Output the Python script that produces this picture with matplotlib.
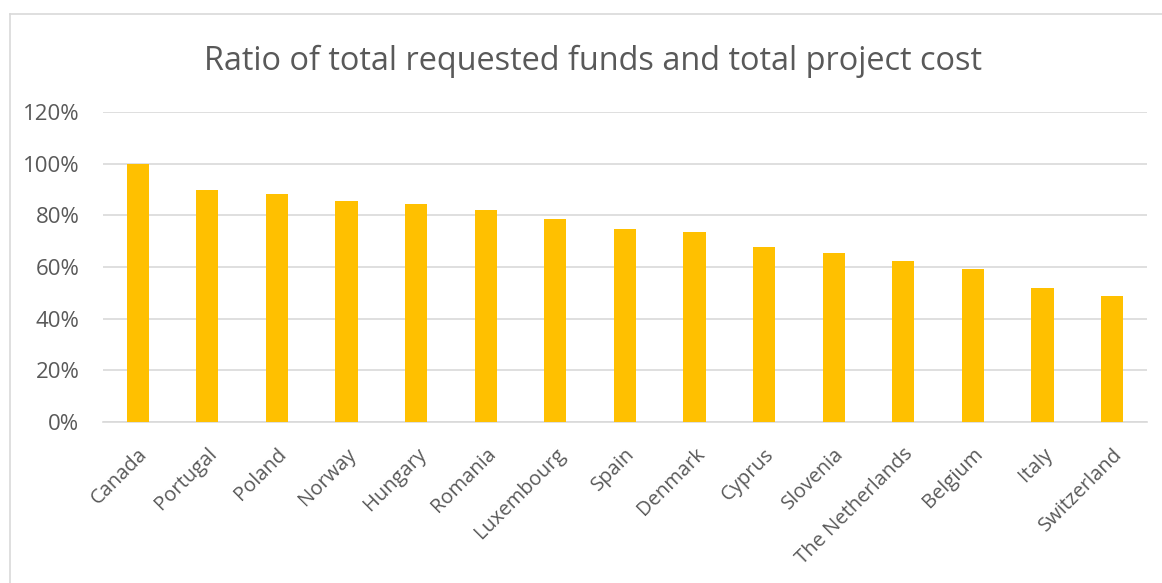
import matplotlib
matplotlib.use("Agg")
import matplotlib.pyplot as plt
import matplotlib.transforms as mtransforms
from matplotlib.ticker import PercentFormatter
from matplotlib.lines import Line2D

countries = ["Canada", "Portugal", "Poland", "Norway", "Hungary", "Romania",
             "Luxembourg", "Spain", "Denmark", "Cyprus", "Slovenia",
             "The Netherlands", "Belgium", "Italy", "Switzerland"]
ratios = [100.0, 89.7, 88.4, 85.7, 84.3, 82.1, 78.4, 74.7, 73.6, 67.6,
          65.3, 62.2, 59.1, 51.7, 48.9]
yticks = [0, 20, 40, 60, 80, 100, 120]
title = "Ratio of total requested funds and total project cost"

plt.rcParams['font.family'] = ['Open Sans', 'DejaVu Sans']
text_color = "#595959"
grid_color = "#d9d9d9"
bar_color = "#FFC000"

fig = plt.figure(figsize=(11.62, 5.83), dpi=100)
ax = fig.add_axes([0.0886, 0.2762, 0.987 - 0.0886, 0.8079 - 0.2762])

x = list(range(len(countries)))
ax.bar(x, ratios, width=0.32, color=bar_color, zorder=3)
ax.set_xlim(-0.5, len(countries) - 0.5)
ax.set_ylim(0, 120)
ax.set_yticks(yticks)
ax.yaxis.set_major_formatter(PercentFormatter(decimals=0))
ax.set_xticks(x)
ax.set_xticklabels(countries, rotation=45, ha="right", rotation_mode="anchor",
                   fontsize=14.5, color=text_color)
shift = mtransforms.ScaledTranslation(-5 / 100, 0, fig.dpi_scale_trans)
for lab in ax.get_xticklabels():
    lab.set_transform(lab.get_transform() + shift)
for lab in ax.get_yticklabels():
    lab.set_fontsize(16)
    lab.set_color(text_color)
ax.tick_params(axis="both", length=0)
ax.tick_params(axis="y", pad=17)
ax.tick_params(axis="x", pad=16)
ax.grid(axis="y", color=grid_color, linewidth=1.2, zorder=0)
for s in ["top", "right", "left"]:
    ax.spines[s].set_visible(False)
ax.spines["bottom"].set_color(grid_color)
ax.spines["bottom"].set_linewidth(1.2)

fig.text(0.51, 0.895, title, ha="center", va="center", fontsize=23.4,
         color=text_color)

# chart border (top and left)
fig.add_artist(Line2D([9.5 / 1162, 1.0], [1 - 13.5 / 583, 1 - 13.5 / 583],
                      transform=fig.transFigure, color=grid_color, linewidth=1.2))
fig.add_artist(Line2D([9.5 / 1162, 9.5 / 1162], [0, 1 - 13.5 / 583],
                      transform=fig.transFigure, color=grid_color, linewidth=1.2))

fig.savefig("out.png", dpi=100, facecolor="white")
